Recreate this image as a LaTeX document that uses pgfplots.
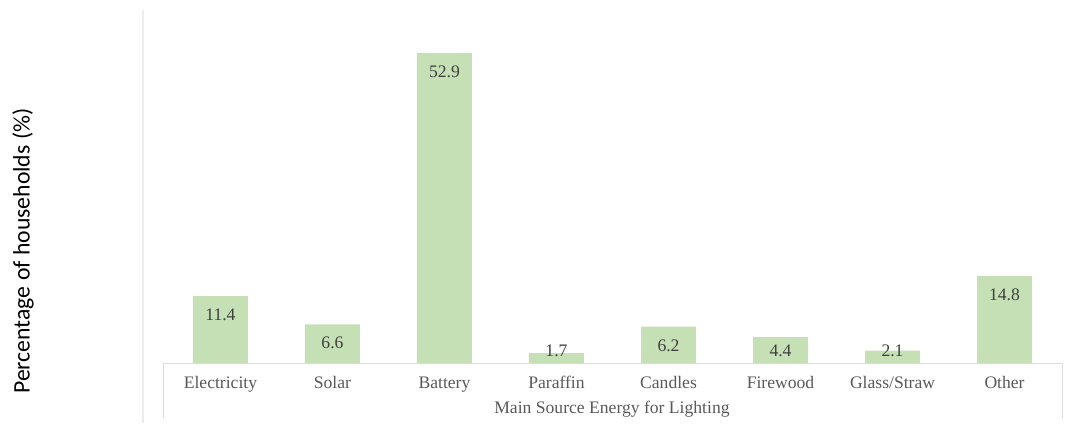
\documentclass[border=0pt]{standalone}
\usepackage{pgfplots}
\pgfplotsset{compat=1.18}
\usepackage{pgfplotstable}
\usepackage{fontspec}
\setmainfont{Liberation Serif}
\newfontfamily\labelsans{Carlito}

\definecolor{barfill}{HTML}{C5E0B4}
\definecolor{ticktext}{HTML}{595959}
\definecolor{valtext}{HTML}{404040}
\definecolor{frameline}{HTML}{DCDCDC}
\definecolor{sideline}{HTML}{EDEDED}

% Main source of energy for lighting (% of households)
\pgfplotstableread{
idx val
0 11.4
1 6.6
2 52.9
3 1.7
4 6.2
5 4.4
6 2.1
7 14.8
}\lighting

\begin{document}
\begin{tikzpicture}
\begin{axis}[
  scale only axis,
  width=899bp, height=330bp,
  xmin=-0.513, xmax=7.513,
  ymin=0, ymax=56.3,
  clip=false,
  axis line style={draw=none},
  tick style={draw=none},
  major tick length=0pt,
  ytick=\empty,
  xtick={0,...,7},
  xticklabels={Electricity,Solar,Battery,Paraffin,Candles,Firewood,Glass/Straw,Other},
  every x tick label/.append style={anchor=base, yshift=-25bp,
    font=\fontsize{17.6bp}{20bp}\selectfont, text=ticktext},
  xlabel={Main Source Energy for Lighting},
  every axis x label/.style={at={(axis description cs:0.4994,-0.1545)}, anchor=base,
    font=\fontsize{17.6bp}{20bp}\selectfont, text=ticktext},
  ylabel={Percentage of households (\%)},
  every axis y label/.style={at={(axis description cs:-0.1557,0.339)}, anchor=center, rotate=90,
    font=\labelsans\fontsize{23.7bp}{26bp}\selectfont, text=black},
]
% bars
\addplot[ybar, bar width=55bp, fill=barfill, draw=none] table[x=idx, y=val] {\lighting};
% value labels, set just inside the top of each bar
\addplot[draw=none, mark=none,
  nodes near coords, point meta=explicit symbolic,
  every node near coord/.style={anchor=center, text=valtext,
    font=\fontsize{17.6bp}{20bp}\selectfont}]
  table[x=idx, y expr={max(\thisrow{val}-3.2,2.15)}, meta=val] {\lighting};
\end{axis}
% frame around the category axis and the left rule
\draw[frameline, line width=1bp] (0,-55bp) -- (0,0) -- (899bp,0) -- (899bp,-55bp);
\draw[sideline, line width=1.5bp] (-20bp,353bp) -- (-20bp,-60bp);
\path[use as bounding box] (-163bp,-60bp) rectangle (909bp,363bp);
\end{tikzpicture}
\end{document}
